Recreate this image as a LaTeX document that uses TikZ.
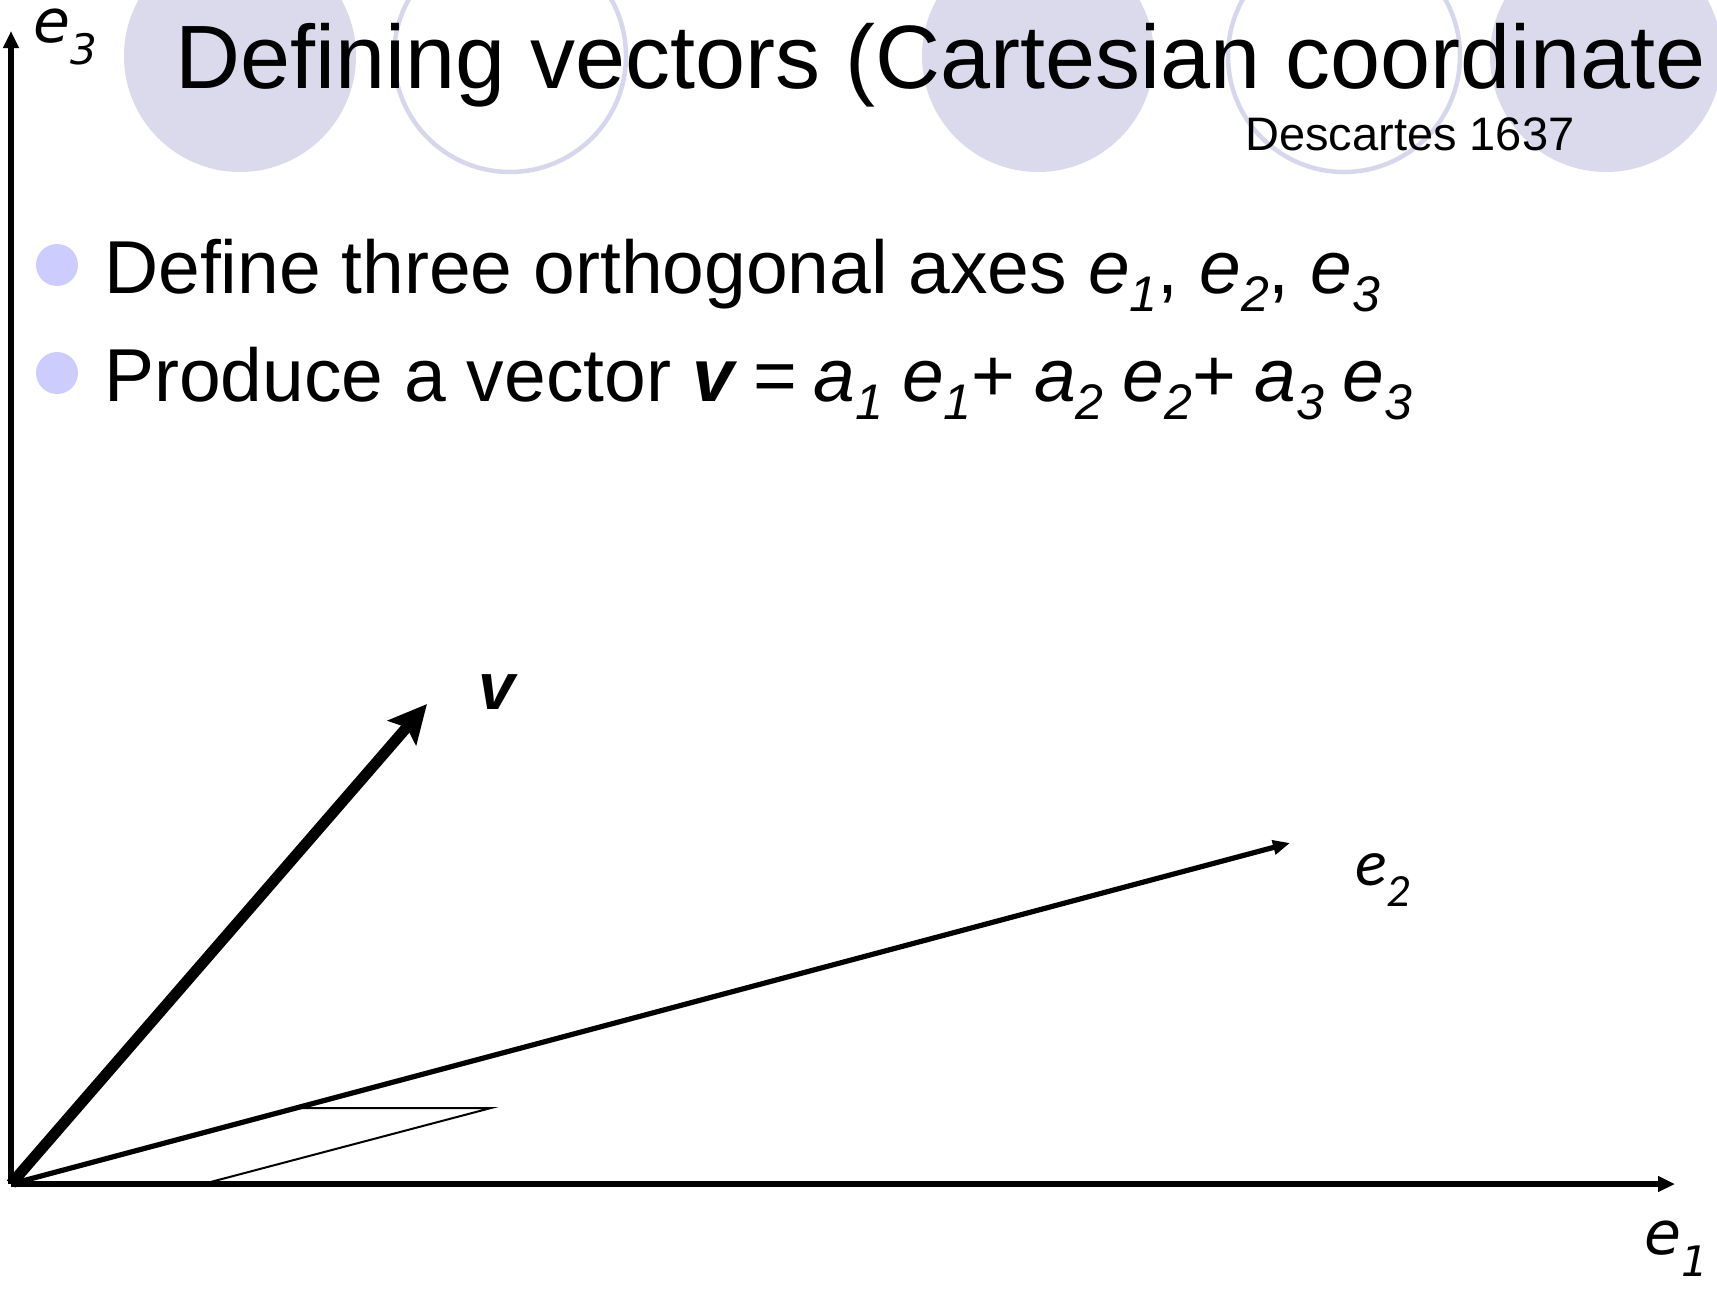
\documentclass[tikz,border=0pt]{standalone}
\usepackage{fontspec}
\setmainfont{Liberation Sans}
\newfontfamily\verdanalike{DejaVu Sans}
\newfontfamily\calibrilike{Carlito}
\usetikzlibrary{arrows.meta}
\definecolor{circfill}{RGB}{218,218,236}
\definecolor{circline}{RGB}{214,214,236}
\definecolor{bulletblue}{RGB}{204,204,255}
\newcommand{\ix}[2]{\textit{#1}\raisebox{-0.24em}{\fontsize{50}{50}\selectfont\itshape #2}}
\tikzset{
  deco/.style={fill=circfill,draw=none},
  decoring/.style={draw=circline,line width=4.5pt},
  itemtext/.style={anchor=base west,inner sep=0pt,font=\fontsize{75}{80}\selectfont},
  axisarrow/.style={line width=5.2pt,-{Triangle[length=17pt,width=15pt]}},
  e2arrow/.style={line width=5.2pt,-{Triangle[length=17pt,width=14pt]}},
  varrow/.style={line width=11pt,-{Stealth[length=38pt,width=37pt,inset=7pt]}},
  thinline/.style={line width=2pt},
  axislabel/.style={inner sep=0pt,font=\verdanalike\itshape\fontsize{60}{60}\selectfont}
}

\begin{document}
\begin{tikzpicture}[x=1pt,y=-1pt]
\useasboundingbox (0,0) rectangle (1717,1291);
\clip (0,0) rectangle (1717,1291);

% background circles of the slide
\foreach \cx/\kind in {240/deco,510/decoring,1038/deco,1344/decoring,1606/deco}
  \path[\kind] (\cx,56) circle[radius=116];

% title
\node[anchor=base west,inner sep=0pt,font=\fontsize{90}{100}\selectfont] (title) at (175,88) {Defining vectors (Cartesian coordinate};
\node[anchor=base west,inner sep=0pt,font=\fontsize{47}{50}\selectfont] (year) at (1245,150) {Descartes 1637};

% bullets
\foreach \by in {265,373}
  \fill[bulletblue] (57,\by) circle[radius=21];
\node[itemtext] (item1) at (104,293) {Define three orthogonal axes \ix{e}{1}, \ix{e}{2}, \ix{e}{3}};
\node[itemtext] (item2) at (104,401) {Produce a vector \textbf{\textit{v}}\hspace{0.22em}=\hspace{0.22em}\ix{a}{1}\hspace{0.25em}\ix{e}{1}+\hspace{0.25em}\ix{a}{2}\hspace{0.25em}\ix{e}{2}+\hspace{0.25em}\ix{a}{3}\hspace{0.25em}\ix{e}{3}};

% axes and vectors
\coordinate (O) at (11,1184);
\coordinate (e1end) at (1675,1184);
\coordinate (e3end) at (11,31);
\coordinate (e2end) at (1290,843);
\coordinate (vend) at (427,704);
\coordinate (p1) at (203,1184);
\coordinate (p2) at (491,1108);
\coordinate (p3) at (299,1108);

\draw[axisarrow] (O) -- (e1end);
\draw[axisarrow] (O) -- (e3end);
\draw[e2arrow] (O) -- (e2end);
\draw[varrow] (O) -- (vend);
\draw[thinline] (p3) -- (p2) -- (p1);

% labels
\node[axislabel] (e3lab) at (66,37) {e\textsubscript{3}};
\node[axislabel] (e1lab) at (1677,1249) {e\textsubscript{1}};
\node[inner sep=0pt,font=\calibrilike\itshape\fontsize{66}{66}\selectfont] (e2lab) at (1383,880) {e\textsubscript{2}};
\node[inner sep=0pt,font=\fontsize{66}{66}\selectfont] (vlab) at (498,692) {\textbf{\textit{v}}};

\end{tikzpicture}
\end{document}
